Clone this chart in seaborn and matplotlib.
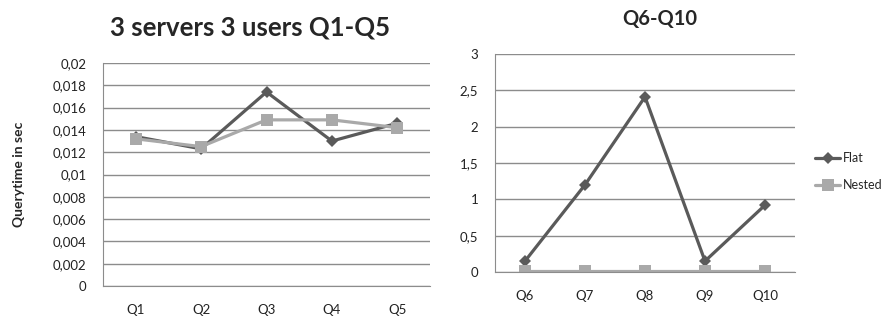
import matplotlib
matplotlib.use("Agg")
import matplotlib.pyplot as plt
import seaborn as sns
import pandas as pd
from matplotlib.ticker import FuncFormatter

q_left = ["Q1", "Q2", "Q3", "Q4", "Q5"]
flat_left = [0.0134, 0.0123, 0.0174, 0.0130, 0.0146]
nested_left = [0.0132, 0.0125, 0.0149, 0.0149, 0.0142]

q_right = ["Q6", "Q7", "Q8", "Q9", "Q10"]
flat_right = [0.15, 1.20, 2.41, 0.15, 0.92]
nested_right = [0.02, 0.02, 0.02, 0.02, 0.02]

left_yticks = [0, 0.002, 0.004, 0.006, 0.008, 0.01, 0.012, 0.014, 0.016, 0.018, 0.02]
right_yticks = [0, 0.5, 1, 1.5, 2, 2.5, 3]

sns.set_style("white")
plt.rcParams['font.family'] = ['Lato', 'DejaVu Sans']

FLAT_C = "#5a5a5a"
NEST_C = "#a9a9a9"

def df_for(qs, flat, nested):
    return pd.DataFrame({
        "q": qs * 2,
        "val": flat + nested,
        "series": ["Flat"] * len(qs) + ["Nested"] * len(qs),
    })

fig = plt.figure(figsize=(8.83, 3.23), dpi=100)
ax1 = fig.add_axes([103/883, 1-286/323, 327/883, 223/323])
ax2 = fig.add_axes([495/883, 1-272/323, 300/883, 218/323])

def comma_fmt(v, pos):
    s = ("%.3f" % v).rstrip("0").rstrip(".")
    if abs(v) < 1e-12:
        s = "0"
    return s.replace(".", ",")

TS = 9.5
for ax, qs, fl, ne, yt, ymax in [
    (ax1, q_left, flat_left, nested_left, left_yticks, 0.02),
    (ax2, q_right, flat_right, nested_right, right_yticks, 3),
]:
    df = df_for(qs, fl, ne)
    sns.lineplot(data=df, x="q", y="val", hue="series", style="series",
                 palette={"Flat": FLAT_C, "Nested": NEST_C},
                 markers={"Flat": "D", "Nested": "s"}, dashes=False,
                 markersize=7, linewidth=2.3, markeredgewidth=0,
                 ax=ax, legend=(ax is ax2), sort=False)
    for line in ax.lines:
        if line.get_marker() == "s":
            line.set_markersize(9)
        elif line.get_marker() == "D":
            line.set_markersize(6)
    ax.set_xlim(-0.5, 4.5)
    ax.set_ylim(0, ymax)
    ax.set_yticks(yt)
    ax.yaxis.set_major_formatter(FuncFormatter(comma_fmt))
    ax.grid(axis="y", color="#8c8c8c", linewidth=1)
    ax.set_axisbelow(True)
    for s in ["top", "right"]:
        ax.spines[s].set_visible(False)
    ax.spines["left"].set_color("#8c8c8c")
    ax.spines["bottom"].set_color("#8c8c8c")
    ax.tick_params(axis="both", length=0, labelsize=TS, colors="#222222")
    ax.tick_params(axis="x", pad=13)
    ax.set_xlabel("")
    ax.set_ylabel("")

ax1.tick_params(axis="y", pad=12)
ax2.tick_params(axis="y", pad=12)
ax1.set_ylabel("Querytime in sec", fontsize=10, fontweight="bold", labelpad=20)
ax1.set_title("3 servers 3 users Q1-Q5", fontsize=18.5, fontweight="bold", pad=20, x=0.45)
ax2.set_title("Q6-Q10", fontsize=14.5, fontweight="bold", pad=21, x=0.55)

leg = ax2.legend(loc="center left", bbox_to_anchor=(1.067, 0.46), frameon=False,
                 fontsize=9, handlelength=2.0, labelspacing=1.2, handletextpad=0.2,
                 borderaxespad=0, borderpad=0)

fig.savefig("out.png", dpi=100)
